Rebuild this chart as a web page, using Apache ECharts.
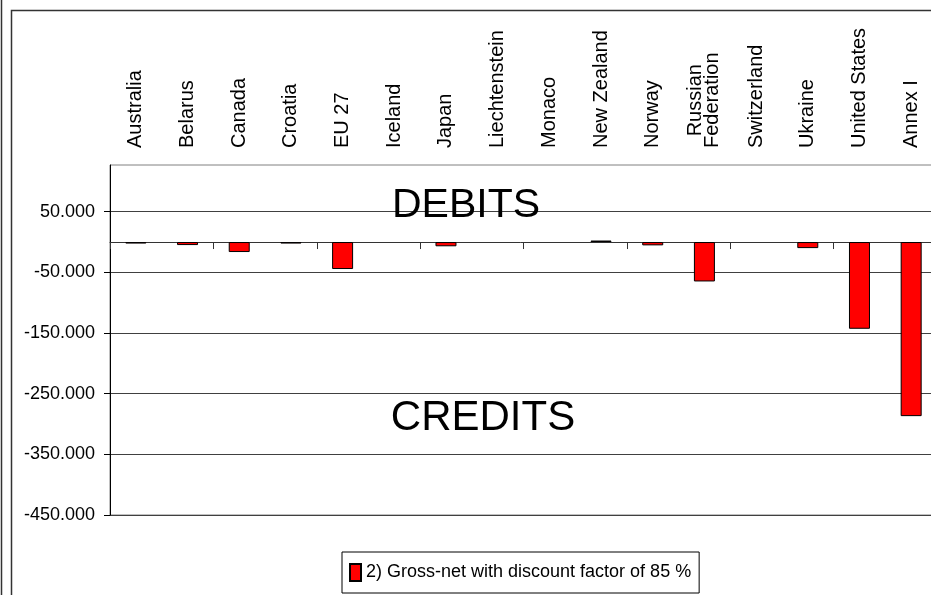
<!DOCTYPE html>
<html>
<head>
<meta charset="utf-8">
<script src="https://cdn.jsdelivr.net/npm/echarts@6/dist/echarts.min.js"></script>
<style>
  html, body { margin: 0; padding: 0; background: #fff; }
  #chart { width: 931px; height: 595px; }
</style>
</head>
<body>
<div id="chart"></div>
<script>
// categories along the x axis
var countries = ['Australia', 'Belarus', 'Canada', 'Croatia', 'EU 27', 'Iceland', 'Japan',
  'Liechtenstein', 'Monaco', 'New Zealand', 'Norway', 'Russian\nFederation',
  'Switzerland', 'Ukraine', 'United States', 'Annex I']
// 2) Gross-net with discount factor of 85 % (null = no bar drawn)
var grossNet85 = [-2500, -5000, -16500, -2500, -44500, null, -7000,
  null, null, 2500, -5500, -65000,
  null, -10000, -143000, -287000]
// y tick values shown
var yTicks = [-450000, -350000, -250000, -150000, -50000, 50000]
var seriesName = '2) Gross-net with discount factor of 85 %'

var font = "'Liberation Sans', Arial, sans-serif"

// 50000 -> 50.000
function fmt(v) {
  var s = String(Math.abs(Math.round(v))).replace(/\B(?=(\d{3})+(?!\d))/g, '.')
  return (v < 0 ? '-' : '') + s
}

var chart = echarts.init(document.getElementById('chart'))
chart.setOption({
  animation: false,
  backgroundColor: '#fff',
  grid: {
    left: 110,
    top: 165,
    right: -6,
    bottom: 80,
    containLabel: false,
    outerBoundsMode: 'none',
    show: true,
    borderColor: '#808080',
    borderWidth: 1,
    backgroundColor: 'transparent'
  },
  legend: {
    left: 342,
    top: 552,
    padding: [11, 8, 11, 7],
    itemWidth: 11,
    itemHeight: 17,
    borderColor: '#000',
    borderWidth: 1,
    backgroundColor: '#fff',
    selectedMode: false,
    textStyle: { fontFamily: font, fontSize: 18, color: '#000' },
    data: [{ name: seriesName, icon: 'rect' }]
  },
  xAxis: [{
    // labels band above the plot
    type: 'category',
    position: 'top',
    data: countries,
    axisLine: { show: false, onZero: false },
    axisTick: { show: false },
    axisLabel: {
      interval: 0,
      rotate: -90,
      margin: 17,
      color: '#000',
      formatter: function (v) {
        return v.split('\n').map(function (s) { return '{c|' + s + '}' }).join('\n')
      },
      rich: {
        c: { align: 'center', fontFamily: font, fontSize: 20, color: '#000', lineHeight: 17 }
      }
    },
    splitLine: { show: false }
  }, {
    // axis line through zero
    type: 'category',
    position: 'bottom',
    data: countries,
    axisLine: { show: true, onZero: true, lineStyle: { color: '#333', width: 1 } },
    axisTick: { show: true, length: 7, lineStyle: { color: '#333', width: 1 } },
    axisLabel: { show: false },
    splitLine: { show: false }
  }],
  yAxis: {
    type: 'value',
    min: -450000,
    max: 127000,
    axisLine: { show: true, lineStyle: { color: '#000', width: 1 } },
    axisTick: { show: true, inside: false, length: 6, lineStyle: { color: '#000' }, customValues: yTicks },
    axisLabel: {
      customValues: yTicks,
      margin: 15,
      color: '#000',
      fontFamily: font,
      fontSize: 18,
      formatter: fmt
    },
    splitLine: { show: true, lineStyle: { color: '#404040', width: 1 } }
  },
  graphic: [
    { type: 'line', shape: { x1: 1.5, y1: 0, x2: 1.5, y2: 595 }, style: { stroke: '#333', lineWidth: 1.5 }, silent: true },
    { type: 'polyline', shape: { points: [[11.5, 595], [11.5, 10.5], [931, 10.5]] }, style: { stroke: '#333', lineWidth: 1.5, fill: null }, silent: true },
    { type: 'text', x: 466, y: 206, style: { text: 'DEBITS', font: '41px ' + font, fill: '#000', textAlign: 'center', textVerticalAlign: 'middle' }, z: 10 },
    { type: 'text', x: 483, y: 418, style: { text: 'CREDITS', font: '42px ' + font, fill: '#000', textAlign: 'center', textVerticalAlign: 'middle' }, z: 10 }
  ],
  series: [{
    name: seriesName,
    type: 'bar',
    xAxisIndex: 0,
    barWidth: 21,
    data: grossNet85,
    itemStyle: { color: '#ff0000', borderColor: '#000', borderWidth: 1 }
  }]
})
</script>
</body>
</html>
